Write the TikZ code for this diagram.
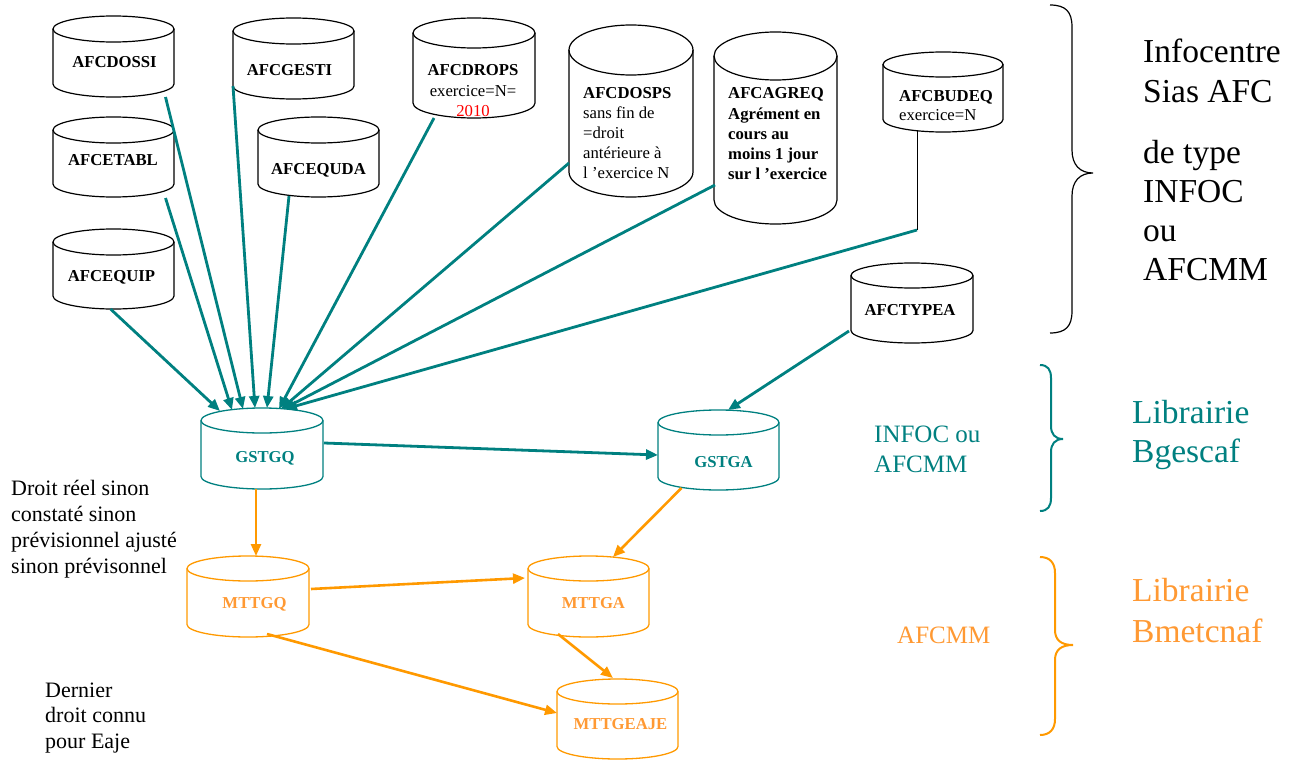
\documentclass[tikz,border=0pt]{standalone}
\usepackage{fontspec}
\setmainfont{Liberation Serif}
\usetikzlibrary{arrows.meta,calc}
\definecolor{tealc}{RGB}{0,128,128}
\definecolor{orl}{RGB}{255,153,0}
\definecolor{ort}{RGB}{255,153,51}
\definecolor{redt}{RGB}{255,0,0}
% cylinder: name, cx, ytop, ybot, width, ry, style
\newcommand{\dbcyl}[7]{%
  \node[cylbox, minimum width=#5pt, minimum height={(#4-#3)*1pt}] (#1) at (#2,{(#3+#4)/2}) {};
  \draw[#7] ({#2-#5/2},{#3+#6}) -- ({#2-#5/2},{#4-#6})
     .. controls ({#2-#5/2},{#4-#6+0.5523*#6}) and ({#2-0.5523*#5/2},#4) .. (#2,#4)
     .. controls ({#2+0.5523*#5/2},#4) and ({#2+#5/2},{#4-#6+0.5523*#6}) .. ({#2+#5/2},{#4-#6})
     -- ({#2+#5/2},{#3+#6});
  \draw[#7] (#2,{#3+#6}) ellipse [x radius={#5/2}, y radius=#6];
}
\begin{document}
\begin{tikzpicture}[x=1pt,y=-1pt,
  cylbox/.style={rectangle,draw=none,inner sep=0pt,outer sep=0pt},
  blkcyl/.style={draw=black,line width=1.2pt},
  tealcyl/.style={draw=tealc,line width=1.3pt},
  orcyl/.style={draw=orl,line width=1.3pt},
  nm/.style={font=\bfseries\fontsize{16.7}{20}\selectfont,inner sep=0pt,anchor=base},
  nml/.style={font=\bfseries\fontsize{16.7}{20}\selectfont,inner sep=0pt,anchor=base west},
  rg/.style={font=\fontsize{16.7}{20}\selectfont,inner sep=0pt,anchor=base},
  rgl/.style={font=\fontsize{16.7}{20}\selectfont,inner sep=0pt,anchor=base west},
  tarr/.style={draw=tealc,line width=2.8pt,-{Triangle[length=12pt,width=10pt]}},
  oarr/.style={draw=orl,line width=2.6pt,-{Triangle[length=12pt,width=10pt]}},
  bigt/.style={font=\fontsize{33.5}{39}\selectfont,inner sep=0pt,anchor=base west},
  midt/.style={font=\fontsize{25}{30}\selectfont,inner sep=0pt,anchor=base west},
  sidet/.style={font=\fontsize{22}{26}\selectfont,inner sep=0pt,anchor=base west},
  bracel/.style={line width=1.2pt}
]
\useasboundingbox (0,0) rectangle (1301,760);

% ---------- black source cylinders ----------
\dbcyl{dossi}{113.5}{16}{97}{121}{13}{blkcyl}
\node[nm] (dossi-t) at (114.5,67.5) {AFCDOSSI};
\dbcyl{gesti}{293.5}{18}{99}{121}{13}{blkcyl}
\node[nm] (gesti-t) at (289.5,76) {AFCGESTI};
\dbcyl{etabl}{113.5}{117}{197}{121}{13}{blkcyl}
\node[nm] (etabl-t) at (113,165.5) {AFCETABL};
\dbcyl{equda}{318.5}{117}{197}{121}{13}{blkcyl}
\node[nm] (equda-t) at (318.5,174.5) {AFCEQUDA};
\dbcyl{equip}{113.5}{229}{309}{121}{13}{blkcyl}
\node[nm] (equip-t) at (111.5,281.5) {AFCEQUIP};
\dbcyl{drops}{474}{18}{118}{122}{15}{blkcyl}
\node[nm] (drops-t1) at (473,75) {AFCDROPS};
\node[rg] (drops-t2) at (473,96) {exercice=N=};
\node[rg,text=redt] (drops-t3) at (473,116) {2010};
\dbcyl{dosps}{631}{25}{197}{124}{25}{blkcyl}
\node[nml] (dosps-t1) at (583,98) {AFCDOSPS};
\node[rgl] (dosps-t2) at (583,118) {sans fin de};
\node[rgl] (dosps-t3) at (583,138) {=droit};
\node[rgl] (dosps-t4) at (583,158) {antérieure à};
\node[rgl] (dosps-t5) at (583,178) {l ’exercice N};
\dbcyl{agreq}{775.5}{32}{224}{123}{24}{blkcyl}
\node[nml] (agreq-t1) at (728,99) {AFCAGREQ};
\node[nml] (agreq-t2) at (728,119) {Agrément en};
\node[nml] (agreq-t3) at (728,139) {cours au};
\node[nml] (agreq-t4) at (728,159) {moins 1 jour};
\node[nml] (agreq-t5) at (728,179) {sur l ’exercice};
\dbcyl{budeq}{943}{52}{132}{120}{12.5}{blkcyl}
\node[nml] (budeq-t1) at (899,101) {AFCBUDEQ};
\node[rgl] (budeq-t2) at (899,120) {exercice=N};
\dbcyl{typea}{912}{263}{343}{122}{12.5}{blkcyl}
\node[nm] (typea-t) at (910,315) {AFCTYPEA};

% ---------- teal cylinders ----------
\dbcyl{gstgq}{262}{408}{489}{122}{12.5}{tealcyl}
\node[nm,text=tealc] (gstgq-t) at (265,462) {GSTGQ};
\dbcyl{gstga}{718.5}{410}{490}{121}{12.5}{tealcyl}
\node[nm,text=tealc] (gstga-t) at (723.5,467) {GSTGA};

% ---------- orange cylinders ----------
\dbcyl{mttgq}{248}{556}{637}{122}{12.5}{orcyl}
\node[nm,text=ort] (mttgq-t) at (254.5,608) {MTTGQ};
\dbcyl{mttga}{588.5}{556}{637}{121}{12.5}{orcyl}
\node[nm,text=ort] (mttga-t) at (593.5,608) {MTTGA};
\dbcyl{mttgeaje}{617.5}{679}{759}{121}{12.5}{orcyl}
\node[nm,text=ort] (mttgeaje-t) at (620.5,729) {MTTGEAJE};

% ---------- teal connectors ----------
\draw[tarr] ($(equip.south)+(-3,0)$) -- ($(gstgq.north)+(-42,3)$);
\draw[tarr] ($(etabl.south)+(52,1)$) -- ($(gstgq.north)+(-30,2)$);
\draw[tarr] ($(dossi.south)+(52,0)$) -- ($(gstgq.north)+(-19,1)$);
\draw[tarr] ($(gesti.south west)+(0,-13)$) -- ($(gstgq.north)+(-7,0)$);
\draw[tarr] ($(equda.south)+(-29.5,-1)$) -- ($(gstgq.north)+(5,0)$);
\draw[tarr] ($(drops.south)+(-40,0)$) -- ($(gstgq.north)+(17,1)$);
\draw[tarr] ($(dosps.west)+(0,52)$) -- ($(gstgq.north)+(19,1)$);
\draw[tarr] ($(agreq.west)+(1,57)$) -- ($(gstgq.north)+(21,1)$);
\coordinate (bbend) at (917,230);
\draw[line width=1pt] ($(budeq.south)+(-26,-1)$) -- (bbend);
\draw[tarr] (bbend) -- ($(gstgq.north)+(23,1)$);
\draw[tarr] ($(typea.west)+(-2,28)$) -- ($(gstga.north)+(9.5,0)$);
\draw[tarr] ($(gstgq.east)+(1,-5.5)$) -- ($(gstga.west)+(0,5)$);

% ---------- orange connectors ----------
\draw[oarr] ($(gstgq.south)+(-6,0)$) -- ($(mttgq.north)+(8,0)$);
\draw[oarr] ($(gstga.south)+(-37,-2)$) -- ($(mttga.north)+(24.5,1)$);
\draw[oarr] ($(mttgq.east)+(2,-7.5)$) -- ($(mttga.west)+(-3,-18.5)$);
\draw[oarr] ($(mttgq.south)+(19,-3)$) -- ($(mttgeaje.west)+(0,-6)$);
\draw[oarr] ($(mttga.south)+(-30.5,-3)$) -- ($(mttgeaje.north)+(-4.5,-1)$);

% ---------- braces ----------
\draw[bracel] (1050,5) .. controls (1066,5) and (1072,12) .. (1072,27) -- (1072,150)
  .. controls (1072,165) and (1080,173) .. (1093,173)
  .. controls (1080,173) and (1072,181) .. (1072,196) -- (1072,311)
  .. controls (1072,326) and (1066,333) .. (1050,333);
\draw[bracel,draw=tealc,line width=2pt] (1040,365) .. controls (1048,365) and (1051,370) .. (1051,378) -- (1051,426)
  .. controls (1051,434) and (1055,439) .. (1063,439)
  .. controls (1055,439) and (1051,444) .. (1051,452) -- (1051,498)
  .. controls (1051,506) and (1048,511) .. (1040,511);
\draw[bracel,draw=orl,line width=2pt] (1040,557) .. controls (1050,557) and (1055,563) .. (1055,573) -- (1055,630)
  .. controls (1055,640) and (1061,645) .. (1073,645)
  .. controls (1061,645) and (1055,650) .. (1055,660) -- (1055,719)
  .. controls (1055,729) and (1050,735) .. (1040,735);

% ---------- right texts ----------
\node[bigt] (info1) at (1143,63) {Infocentre};
\node[bigt] (info2) at (1143,102) {Sias AFC};
\node[bigt] (info3) at (1143,163) {de type};
\node[bigt] (info4) at (1143,202) {INFOC};
\node[bigt] (info5) at (1143,241) {ou};
\node[bigt] (info6) at (1143,280) {AFCMM};
\node[bigt,text=tealc] (lib1) at (1132,423) {Librairie};
\node[bigt,text=tealc] (lib2) at (1132,462) {Bgescaf};
\node[bigt,text=ort] (lib3) at (1132,601) {Librairie};
\node[bigt,text=ort] (lib4) at (1132,642) {Bmetcnaf};
\node[midt,text=tealc] (typ1) at (874,442) {INFOC ou};
\node[midt,text=tealc] (typ2) at (874,472) {AFCMM};
\node[midt,text=ort] (typ3) at (897,643) {AFCMM};

% ---------- left texts ----------
\node[sidet] (dr1) at (11,495) {Droit réel sinon};
\node[sidet] (dr2) at (11,521) {constaté sinon};
\node[sidet] (dr3) at (11,547) {prévisionnel ajusté};
\node[sidet] (dr4) at (11,573) {sinon prévisonnel};
\node[sidet] (de1) at (45,697) {Dernier};
\node[sidet] (de2) at (45,722) {droit connu};
\node[sidet] (de3) at (45,748) {pour Eaje};
\end{tikzpicture}
\end{document}
